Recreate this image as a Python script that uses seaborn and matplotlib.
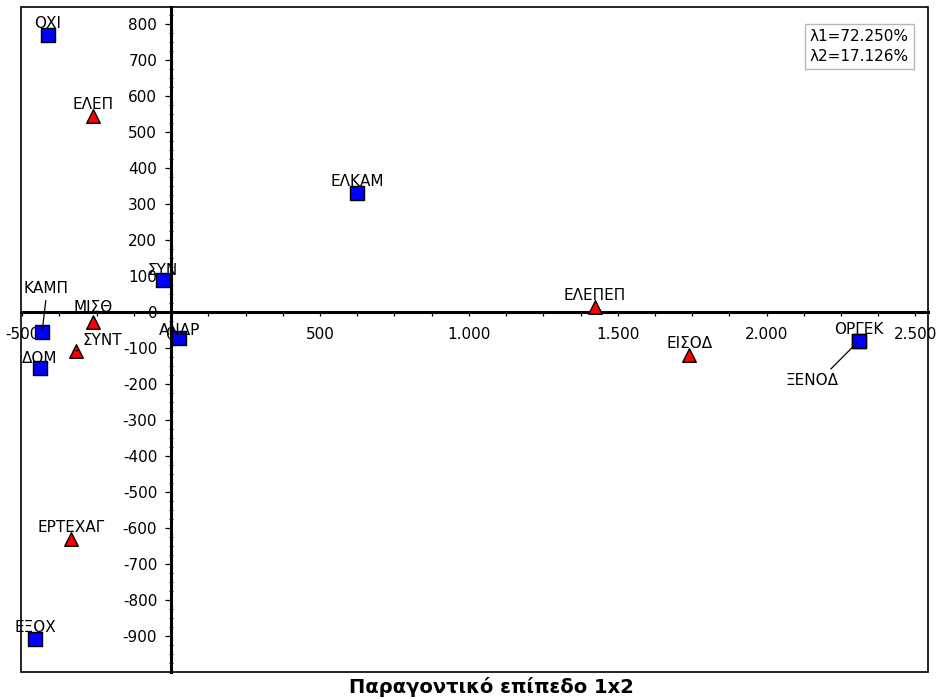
import numpy as np
import pandas as pd
import matplotlib
matplotlib.use('Agg')
import matplotlib.pyplot as plt
import seaborn as sns
from matplotlib.patches import Rectangle
from matplotlib.ticker import MultipleLocator

# points shown as blue squares
sq_labels = ['ΟΧΙ', 'ΣΥΝ', 'ΚΑΜΠ', 'ΔΟΜ', 'ΑΝΔΡ', 'ΕΛΚΑΜ', 'ΟΡΓΕΚ', 'ΞΕΝΟΔ', 'ΕΞΟΧ']
sq_x = [-413, -27, -433, -440, 27, 625, 2310, 2310, -457]
sq_y = [769, 89, -55, -156, -73, 331, -80, -80, -909]

# points shown as red triangles
tri_labels = ['ΕΛΕΠ', 'ΜΙΣΘ', 'ΣΥΝΤ', 'ΕΡΤΕΧΑΓ', 'ΕΛΕΠΕΠ', 'ΕΙΣΟΔ']
tri_x = [-262, -262, -319, -336, 1424, 1740]
tri_y = [544, -28, -108, -631, 14, -119]

x_ticks = [-500, 0, 500, 1000, 1500, 2000, 2500]
x_tick_labels = ['-500', '0', '500', '1.000', '1.500', '2.000', '2.500']
y_ticks = [-900, -800, -700, -600, -500, -400, -300, -200, -100,
           0, 100, 200, 300, 400, 500, 600, 700, 800]

eigen_text = 'λ1=72.250%\nλ2=17.126%'
title = 'Παραγοντικό επίπεδο 1x2'

# label offsets (points) and leader lines, default is centred just above the marker
label_offsets = {'ΚΑΜΠ': (3, 28), 'ΔΟΜ': (0, 4), 'ΑΝΔΡ': (0, 2), 'ΣΥΝΤ': (19, 4),
                 'ΞΕΝΟΔ': (-34, -32), 'ΜΙΣΘ': (0, 7), 'ΣΥΝ': (0, 3.6)}
leaders = {'ΚΑΜΠ': (0.5, 0), 'ΣΥΝΤ': (0.3, 0), 'ΞΕΝΟΔ': (0.5, 0)}

sns.set_style('white')
plt.rcParams['font.family'] = ['DejaVu Sans']
plt.rcParams['text.color'] = 'black'
plt.rcParams['xtick.color'] = 'black'
plt.rcParams['ytick.color'] = 'black'

W, H = 937, 699
fig = plt.figure(figsize=(W / 100, H / 100), dpi=100)
ax = fig.add_axes([21 / W, 1 - 672 / H, (928 - 21) / W, (672 - 7) / H])

sq = pd.DataFrame({'label': sq_labels, 'x': sq_x, 'y': sq_y})
tri = pd.DataFrame({'label': tri_labels, 'x': tri_x, 'y': tri_y})

sns.scatterplot(data=sq, x='x', y='y', marker='s', s=95, color='#0000ff',
                edgecolor='black', linewidth=1, ax=ax, zorder=4)
sns.scatterplot(data=tri, x='x', y='y', marker='^', s=95, color='#ff0000',
                edgecolor='black', linewidth=1, ax=ax, zorder=4)

for df in (sq, tri):
    for lab, x, y in zip(df['label'], df['x'], df['y']):
        dx, dy = label_offsets.get(lab, (0, 5))
        kw = {}
        if lab in leaders:
            kw['arrowprops'] = dict(arrowstyle='-', color='black', lw=0.9,
                                    shrinkA=1, shrinkB=2, relpos=leaders[lab])
        ax.annotate(lab, (x, y), xytext=(dx, dy), textcoords='offset points',
                    ha='center', va='baseline', fontsize=11, color='black',
                    zorder=5, **kw)

ax.set_xlim(-504, 2542)
ax.set_ylim(-1000, 847)
ax.set_xlabel('')
ax.set_ylabel('')

for side in ('left', 'bottom'):
    ax.spines[side].set_position(('data', 0))
    ax.spines[side].set_linewidth(2.2)
    ax.spines[side].set_color('black')
    ax.spines[side].set_zorder(3)
for side in ('top', 'right'):
    ax.spines[side].set_visible(False)
ax.add_patch(Rectangle((0, 0), 1, 1, transform=ax.transAxes, fill=False,
                       edgecolor='black', lw=1.2, clip_on=False, zorder=3))

ax.set_xticks(x_ticks)
ax.set_xticklabels(x_tick_labels)
ax.set_yticks(y_ticks)
ax.set_yticklabels([str(v) for v in y_ticks])
ax.xaxis.set_minor_locator(MultipleLocator(125))
ax.yaxis.set_minor_locator(MultipleLocator(25))
ax.tick_params(axis='x', which='both', direction='out', length=3, width=0.9,
               labelsize=11, pad=8, bottom=True)
ax.tick_params(axis='y', which='major', direction='out', length=4, width=0.9,
               labelsize=11, pad=6, left=True)
ax.tick_params(axis='y', which='minor', direction='inout', length=2.5, width=0.6, left=True)
ax.grid(False)

fig.text((802 + 917) / 2 / W, 1 - 46.5 / H, eigen_text, ha='center', va='center',
         multialignment='left', fontsize=11, linespacing=1.45,
         bbox=dict(boxstyle='square,pad=0.3', facecolor='white', edgecolor='#b8b8b8', lw=1))

fig.text(491 / W, 1 - 693 / H, title, ha='center', va='baseline',
         fontsize=14, fontweight='bold')

fig.savefig('out.png', dpi=100)
